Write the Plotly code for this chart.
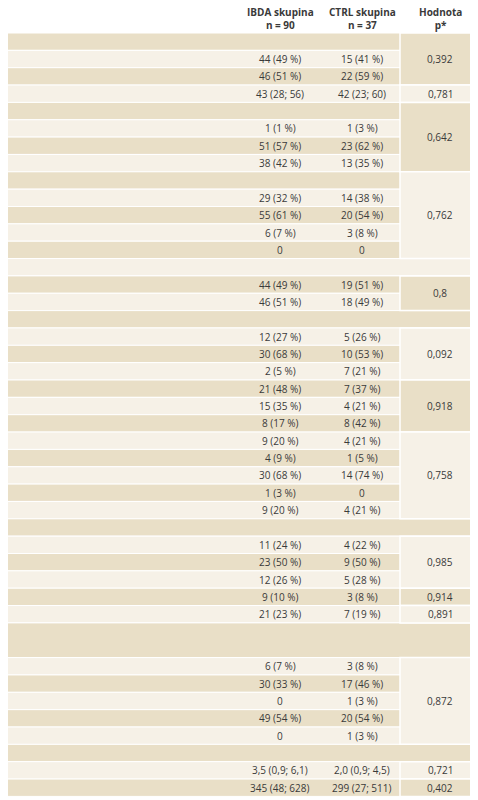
import plotly.graph_objects as go

labels = [
    "<b>Pohlaví</b>, n (%)", "muži", "ženy",
    "<b>Věk</b> v době zařazení do studie, medián (IQR)",
    "<b>Nejvyšší dosažené vzdělání</b>", "základní", "střední", "vysokoškolské",
    "<b>Rodinný stav</b>", "svobodný/á", "ženatý/vdaná nebo s partnerem",
    "rozvedený/á nebo žiji odděleně", "ovdovělý/á",
    "<b>Diagnóza</b>, n (%)", "CD", "UC",
    "<b>CD</b> – Montrealská klasifikace**, n (%)",
    "A1", "A2", "A3", "B1", "B2", "B3", "L1", "L2", "L3", "L4", "perianální nemoc",
    "<b>UC</b> – rozsah***, n (%)", "E1", "E2", "E3",
    "<b>Mimostřevní projevy</b>, n (%)", "<b>Resekce střeva</b> v anamnéze, n (%)",
    "<b>Medikace</b> v době zařazení do studie, n (%)<br><i>(pozn.: je třeba vzít v úvahu kombinovanou terapii několika přípravky)</i>",
    "kortikosteroidy", "azathioprin/6-merkaptopurin", "metotrexát", "mesalazin", "antibiotika",
    "<b>Laboratoř</b> v době zařazení do studie, medián (IQR)",
    "CRP, mg/l", "fekální kalprotektin, µg/g",
]
ibda = ["", "44 (49 %)", "46 (51 %)", "43 (28; 56)", "", "1 (1 %)", "51 (57 %)", "38 (42 %)",
        "", "29 (32 %)", "55 (61 %)", "6 (7 %)", "0", "", "44 (49 %)", "46 (51 %)", "",
        "12 (27 %)", "30 (68 %)", "2 (5 %)", "21 (48 %)", "15 (35 %)", "8 (17 %)",
        "9 (20 %)", "4 (9 %)", "30 (68 %)", "1 (3 %)", "9 (20 %)", "",
        "11 (24 %)", "23 (50 %)", "12 (26 %)", "9 (10 %)", "21 (23 %)", "",
        "6 (7 %)", "30 (33 %)", "0", "49 (54 %)", "0", "", "3,5 (0,9; 6,1)", "345 (48; 628)"]
ctrl = ["", "15 (41 %)", "22 (59 %)", "42 (23; 60)", "", "1 (3 %)", "23 (62 %)", "13 (35 %)",
        "", "14 (38 %)", "20 (54 %)", "3 (8 %)", "0", "", "19 (51 %)", "18 (49 %)", "",
        "5 (26 %)", "10 (53 %)", "7 (21 %)", "7 (37 %)", "4 (21 %)", "8 (42 %)",
        "4 (21 %)", "1 (5 %)", "14 (74 %)", "0", "4 (21 %)", "",
        "4 (22 %)", "9 (50 %)", "5 (28 %)", "3 (8 %)", "7 (19 %)", "",
        "3 (8 %)", "17 (46 %)", "1 (3 %)", "20 (54 %)", "1 (3 %)", "", "2,0 (0,9; 4,5)", "299 (27; 511)"]
# p-value blocks: (first row, last row, text, dark?)
p_blocks = [(0, 2, "0,392", True), (3, 3, "0,781", False), (4, 7, "0,642", True),
            (8, 12, "0,762", False), (14, 15, "0,8", True), (17, 19, "0,092", False),
            (20, 22, "0,918", True), (23, 27, "0,758", False), (29, 31, "0,985", False),
            (32, 32, "0,914", True), (33, 33, "0,891", False), (35, 39, "0,872", False),
            (41, 41, "0,721", False), (42, 42, "0,402", True)]
headers = ["IBDA skupina<br>n = 90", "CTRL skupina<br>n = 37", "Hodnota<br>p*"]

DARK, LIGHT = "#e9dfc7", "#f6f1e7"
TOP, H = 33.0, 17.35
TXT = "#3a3a3a"
FONT = "Open Sans"
OFF = 8  # page body margin compensation

tops, bots = [], []
y = TOP
for i, lab in enumerate(labels):
    hh = H * (2 if "<br>" in lab else 1)
    tops.append(y); bots.append(y + hh); y += hh

shapes, ann = [], []
for i, lab in enumerate(labels):
    col = DARK if i % 2 == 0 else LIGHT
    shapes.append(dict(type="rect", xref="x", yref="y", x0=0, x1=478, y0=tops[i], y1=bots[i],
                       fillcolor=col, line=dict(color="white", width=1), layer="below"))
    yc = (tops[i] + bots[i]) / 2
    ann.append(dict(x=5, y=yc, text=lab, xanchor="left", yanchor="middle", showarrow=False,
                    align="left", font=dict(size=10, color=TXT, family=FONT)))
    for xc, v in ((280, ibda[i]), (362, ctrl[i])):
        if v:
            ann.append(dict(x=xc, y=yc, text=v, xanchor="center", yanchor="middle", showarrow=False,
                            font=dict(size=10, color=TXT, family=FONT)))
for a, b, t, dk in p_blocks:
    shapes.append(dict(type="rect", xref="x", yref="y", x0=400, x1=478, y0=tops[a], y1=bots[b],
                       fillcolor=DARK if dk else LIGHT, line=dict(color="white", width=1.5)))
    ann.append(dict(x=440, y=(tops[a] + bots[b]) / 2, text=t, xanchor="center", yanchor="middle",
                    showarrow=False, font=dict(size=10, color=TXT, family=FONT)))
for xc, h in zip((280, 362, 440), headers):
    ann.append(dict(x=xc, y=18, text="<b>" + h + "</b>", xanchor="center", yanchor="middle",
                    showarrow=False, font=dict(size=10, color=TXT, family=FONT)))

fig = go.Figure()
fig.update_layout(width=478, height=800, margin=dict(l=0, r=0, t=0, b=0),
                  paper_bgcolor="white", plot_bgcolor="white",
                  xaxis=dict(range=[OFF, 478 + OFF], visible=False, fixedrange=True),
                  yaxis=dict(range=[800 + OFF, OFF], visible=False, fixedrange=True),
                  shapes=shapes, annotations=ann, showlegend=False)
fig.write_html("out.html")
